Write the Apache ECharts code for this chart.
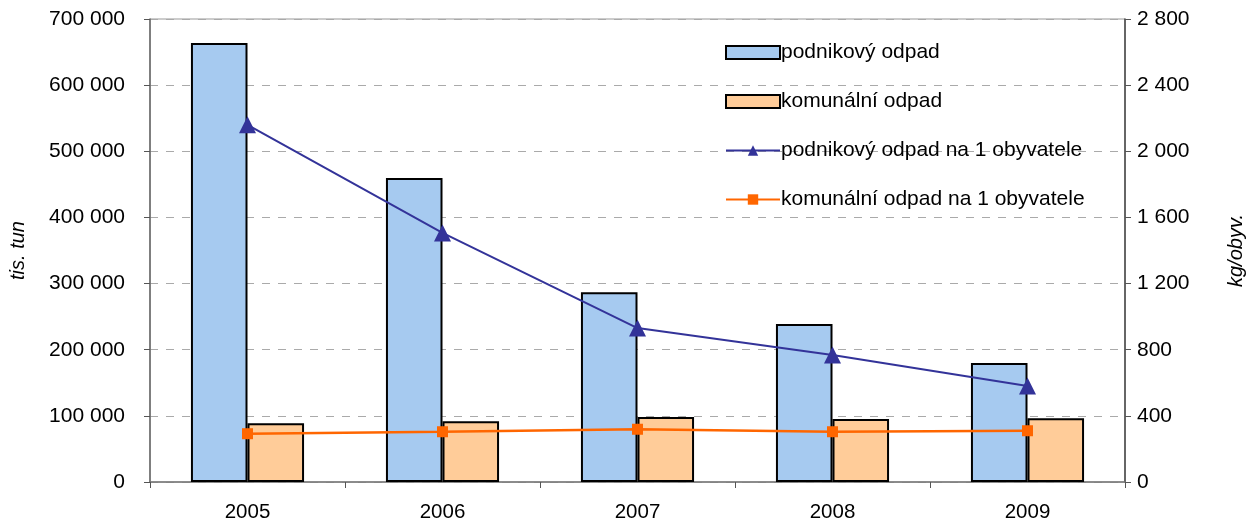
<!DOCTYPE html>
<html>
<head>
<meta charset="utf-8">
<script src="https://cdn.jsdelivr.net/npm/echarts@6/dist/echarts.min.js"></script>
<style>
  html, body { margin: 0; padding: 0; background: #fff; }
  #chart { width: 1254px; height: 526px; }
</style>
</head>
<body>
<div id="chart"></div>
<script>
var roky = ['2005', '2006', '2007', '2008', '2009'];
var podnikovyOdpad = [663700, 459600, 287000, 238900, 179900];
var komunalniOdpad = [88700, 91800, 98300, 95200, 96300];
var podnikovyNaObyv = [2160, 1506, 931, 768, 581];
var komunalniNaObyv = [292, 304, 319, 304, 310];

function mezery(v) {
    return String(v).replace(/\B(?=(\d{3})+(?!\d))/g, ' ');
}

var font = 'Liberation Sans, Arial, sans-serif';

var chart = echarts.init(document.getElementById('chart'));

chart.setOption({
    animation: false,
    textStyle: { fontFamily: font },
    grid: {
        left: 149,
        right: 126,
        top: 19,
        bottom: 44,
        show: true,
        borderColor: '#999',
        borderWidth: 1
    },
    legend: {
        orient: 'vertical',
        left: 720,
        top: 37,
        itemWidth: 54,
        itemHeight: 13,
        itemGap: 28,
        textStyle: { fontSize: 21, color: '#000', fontFamily: font, padding: [0, 0, 0, -4] },
        data: [
            { name: 'podnikový odpad', icon: 'rect' },
            { name: 'komunální odpad', icon: 'rect' },
            'podnikový odpad na 1 obyvatele',
            'komunální odpad na 1 obyvatele'
        ]
    },
    xAxis: {
        type: 'category',
        data: roky,
        axisLine: { lineStyle: { color: '#777', width: 1.5 } },
        axisTick: { show: true, length: 6, lineStyle: { color: '#555' } },
        axisLabel: { fontSize: 20.5, color: '#000', margin: 20 }
    },
    yAxis: [{
        type: 'value',
        min: 0,
        max: 700000,
        interval: 100000,
        name: 'tis. tun',
        nameLocation: 'middle',
        nameGap: 122,
        nameTextStyle: { fontSize: 20, fontStyle: 'italic', color: '#000' },
        axisLine: { show: true, lineStyle: { color: '#666', width: 1.5 } },
        axisTick: { show: true, length: 6, lineStyle: { color: '#555' } },
        axisLabel: { fontSize: 21, color: '#000', margin: 25, formatter: mezery },
        splitLine: { lineStyle: { color: '#aaa', type: [8, 8] } }
    }, {
        type: 'value',
        min: 0,
        max: 2800,
        interval: 400,
        name: 'kg/obyv.',
        nameLocation: 'middle',
        nameGap: 101,
        nameRotate: 90,
        nameTextStyle: { fontSize: 20, fontStyle: 'italic', color: '#000' },
        axisLine: { show: true, lineStyle: { color: '#444', width: 1.5 } },
        axisTick: { show: true, length: 6, lineStyle: { color: '#555' } },
        axisLabel: { fontSize: 21, color: '#000', margin: 12, formatter: mezery },
        splitLine: { show: false }
    }],
    series: [{
        name: 'podnikový odpad',
        type: 'bar',
        data: podnikovyOdpad,
        barGap: '0%',
        barCategoryGap: '42%',
        itemStyle: { color: '#A6CAF0', borderColor: '#000', borderWidth: 2 }
    }, {
        name: 'komunální odpad',
        type: 'bar',
        data: komunalniOdpad,
        itemStyle: { color: '#FFCC99', borderColor: '#000', borderWidth: 2 }
    }, {
        name: 'podnikový odpad na 1 obyvatele',
        type: 'line',
        yAxisIndex: 1,
        data: podnikovyNaObyv,
        symbol: 'triangle',
        symbolSize: 17,
        lineStyle: { color: '#333399', width: 2 },
        itemStyle: { color: '#333399' }
    }, {
        name: 'komunální odpad na 1 obyvatele',
        type: 'line',
        yAxisIndex: 1,
        data: komunalniNaObyv,
        symbol: 'rect',
        symbolSize: 11,
        lineStyle: { color: '#FF6600', width: 2.5 },
        itemStyle: { color: '#FF6600' }
    }]
});
</script>
</body>
</html>
